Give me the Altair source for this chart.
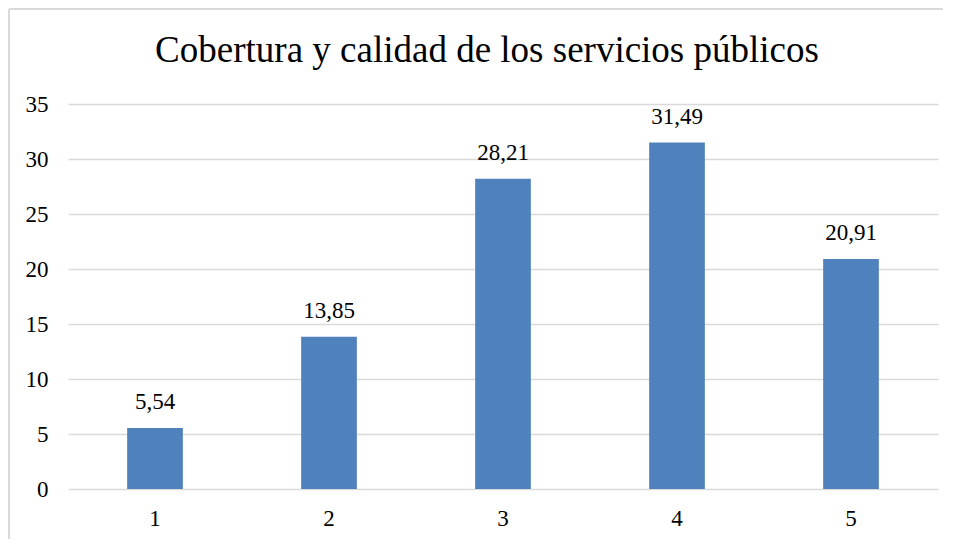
import altair as alt
import pandas as pd

categorias = ["1", "2", "3", "4", "5"]
valores = [5.54, 13.85, 28.21, 31.49, 20.91]
titulo = "Cobertura y calidad de los servicios públicos"

df = pd.DataFrame({"cat": categorias, "v": valores})

FONT = "Liberation Serif"
LSIZE = 23

x = alt.X("cat:N", sort=categorias, title=None,
          scale=alt.Scale(paddingInner=0.68, paddingOuter=0.34),
          axis=alt.Axis(labelAngle=0, labelFont=FONT, labelFontSize=LSIZE, labelColor="#000000",
                        ticks=False, domain=False, labelPadding=18))
y = alt.Y("v:Q", title=None,
          scale=alt.Scale(domain=[0, 35], nice=False),
          axis=alt.Axis(values=[0, 5, 10, 15, 20, 25, 30, 35], labelFont=FONT, labelFontSize=LSIZE,
                        labelColor="#000000", ticks=False, domain=False, labelPadding=20,
                        gridColor="#d9d9d9", gridWidth=1.5))

base = alt.Chart(df)

bars = base.mark_bar(color="#4f81bd").encode(x=x, y=y)

text = base.transform_calculate(
    lab="replace(format(datum.v, '.2f'), '.', ',')"
).mark_text(font=FONT, fontSize=LSIZE, color="#000000", baseline="alphabetic", dy=-19).encode(
    x=alt.X("cat:N", sort=categorias), y="v:Q", text="lab:N")

title_mark = alt.Chart(pd.DataFrame({"t": [titulo]})).mark_text(
    font=FONT, fontSize=37, color="#000000", align="center", baseline="alphabetic"
).encode(x=alt.value(419), y=alt.value(-42), text="t:N")

border_left = base.mark_rule(color="#d9d9d9", strokeWidth=2).encode(
    x=alt.value(-59), y=alt.value(-95), y2=alt.value(480))
border_top = base.mark_rule(color="#d9d9d9", strokeWidth=2).encode(
    x=alt.value(-59), x2=alt.value(880), y=alt.value(-95))

chart = alt.layer(bars, text, title_mark, border_left, border_top).properties(
    width=870, height=385,
    autosize=alt.AutoSizeParams(type="none"),
    padding={"left": 60, "top": 96, "right": 5, "bottom": 50},
).configure_view(stroke=None)

chart.save("out.html", embed_options={"renderer": "svg", "actions": False})
